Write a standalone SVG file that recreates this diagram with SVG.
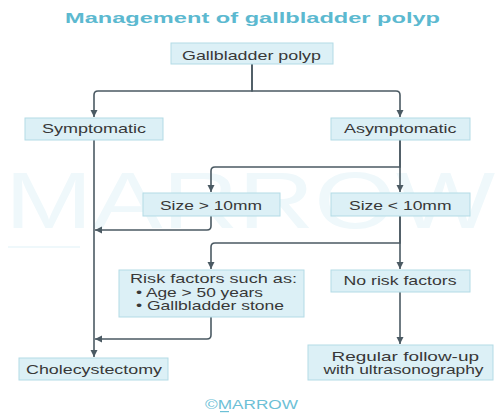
<svg xmlns="http://www.w3.org/2000/svg" width="504" height="418" viewBox="0 0 504 418">
<style>
.box{fill:#dcf0f6;stroke:#b3dbe6;stroke-width:1}
.t{font-family:"Liberation Sans",Arial,sans-serif;font-size:13.5px;fill:#383838}
.t2{font-family:"Liberation Sans",Arial,sans-serif;font-size:13px;fill:#383838}
.ttl{font-family:"Liberation Sans",Arial,sans-serif;font-size:15px;font-weight:bold;fill:#5cb9d0}
.wm{font-family:"Liberation Sans",Arial,sans-serif;font-size:80px;fill:#eff8fb}
.c{fill:none;stroke:#4b5a63;stroke-width:1.6}
</style>
<defs>
<marker id="ah" markerUnits="userSpaceOnUse" markerWidth="8" markerHeight="8" refX="7" refY="3.5" orient="auto">
<path d="M0,0 L7,3.5 L0,7 z" fill="#4b5a63"/>
</marker>
</defs>
<rect width="504" height="418" fill="#ffffff"/>
<g id="watermark">
<text class="wm" x="5" y="228" textLength="490" lengthAdjust="spacingAndGlyphs">MARROW</text>
<rect x="8" y="246" width="72" height="2" fill="#eff8fb"/>
</g>
<text class="ttl" x="65" y="22.5" textLength="375" lengthAdjust="spacingAndGlyphs">Management of gallbladder polyp</text>
<g id="connectors">
<path class="c" d="M252,64 V91 H98 Q94,91 94,95 V117" marker-end="url(#ah)"/>
<path class="c" d="M252,64 V91 H396 Q400,91 400,95 V117" marker-end="url(#ah)"/>
<path class="c" d="M94,140 V357" marker-end="url(#ah)"/>
<path class="c" d="M400,140 V192" marker-end="url(#ah)"/>
<path class="c" d="M400,140 V167 H215 Q211,167 211,171 V192" marker-end="url(#ah)"/>
<path class="c" d="M211,216 V226 Q211,230 207,230 H95" marker-end="url(#ah)"/>
<path class="c" d="M400,216 V269" marker-end="url(#ah)"/>
<path class="c" d="M400,216 V243 H215 Q211,243 211,247 V269" marker-end="url(#ah)"/>
<path class="c" d="M211,317 V335 Q211,339 207,339 H95" marker-end="url(#ah)"/>
<path class="c" d="M400,292 V344" marker-end="url(#ah)"/>
</g>
<g id="n-gallbladder">
<rect class="box" x="171" y="43" width="162" height="21"/>
<text class="t" x="182" y="59.5" textLength="139" lengthAdjust="spacingAndGlyphs">Gallbladder polyp</text>
</g>
<g id="n-symptomatic">
<rect class="box" x="25" y="118" width="138" height="22"/>
<text class="t" x="42" y="133" textLength="104" lengthAdjust="spacingAndGlyphs">Symptomatic</text>
</g>
<g id="n-asymptomatic">
<rect class="box" x="331" y="118" width="139" height="22"/>
<text class="t" x="344" y="133" textLength="112.5" lengthAdjust="spacingAndGlyphs">Asymptomatic</text>
</g>
<g id="n-size-gt">
<rect class="box" x="143" y="193" width="137" height="23"/>
<text class="t" x="160" y="209.5" textLength="102" lengthAdjust="spacingAndGlyphs">Size &gt; 10mm</text>
</g>
<g id="n-size-lt">
<rect class="box" x="331" y="193" width="139" height="23"/>
<text class="t" x="349" y="209.5" textLength="102.5" lengthAdjust="spacingAndGlyphs">Size &lt; 10mm</text>
</g>
<g id="n-risk">
<rect class="box" x="119" y="270" width="185" height="47"/>
<text class="t2" x="130" y="283" textLength="167" lengthAdjust="spacingAndGlyphs">Risk factors such as:</text>
<text class="t2" x="136" y="297" textLength="127" lengthAdjust="spacingAndGlyphs">• Age &gt; 50 years</text>
<text class="t2" x="136" y="310" textLength="148" lengthAdjust="spacingAndGlyphs">• Gallbladder stone</text>
</g>
<g id="n-norisk">
<rect class="box" x="331" y="270" width="139" height="22"/>
<text class="t" x="343.5" y="285" textLength="113" lengthAdjust="spacingAndGlyphs">No risk factors</text>
</g>
<g id="n-chole">
<rect class="box" x="19" y="358" width="149" height="22"/>
<text class="t" x="26" y="373.5" textLength="136" lengthAdjust="spacingAndGlyphs">Cholecystectomy</text>
</g>
<g id="n-followup">
<rect class="box" x="308" y="345" width="185" height="35"/>
<text class="t2" x="331.5" y="360.5" textLength="147.5" lengthAdjust="spacingAndGlyphs">Regular follow-up</text>
<text class="t2" x="323.5" y="373.5" textLength="160" lengthAdjust="spacingAndGlyphs">with ultrasonography</text>
</g>
<g id="footer">
<text x="205" y="409" textLength="93" lengthAdjust="spacingAndGlyphs" style="font-family:'Liberation Sans',Arial,sans-serif;font-size:12.5px;fill:#6cc0d6">©MARROW</text>
<rect x="220" y="411" width="9" height="1.2" fill="#6cc0d6"/>
</g>
</svg>
